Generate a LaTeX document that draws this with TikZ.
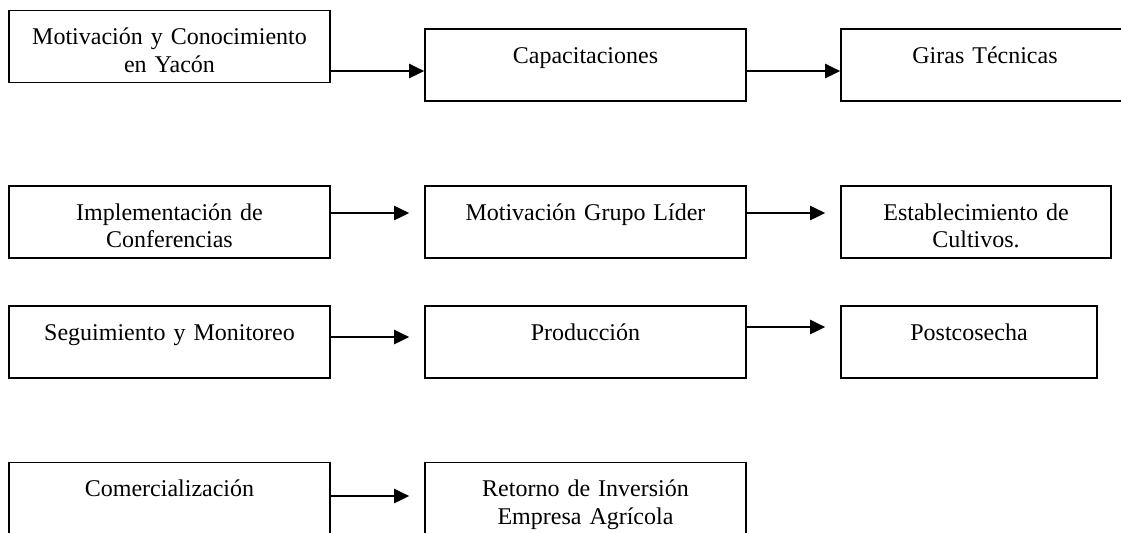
\documentclass[tikz,border=0pt]{standalone}
\usepackage{fontspec}
\setmainfont{Liberation Serif}
\usetikzlibrary{arrows.meta,positioning,calc}

\begin{document}
\begin{tikzpicture}[x=0.5pt, y=-0.5pt,
    caja/.style={draw, line width=0.8pt, minimum height=36pt, inner sep=0pt},
    texto/.style={anchor=base, align=center, text width=150pt, inner sep=0pt,
                  font=\fontsize{12pt}{13.8pt}\selectfont},
    flecha/.style={-{Triangle[length=7.5pt,width=7pt]}, line width=1.3pt}]
\useasboundingbox (0,0) rectangle (1121,532);

% Cajas
\foreach \n/\x/\y/\w/\t in {
    mot/169.5/46.5/160.5/{Motivación y Conocimiento\\en Yacón},
    cap/585.5/65/160.5/{Capacitaciones},
    gir/985/65/144/{Giras Técnicas},
    imp/169.5/222/160.5/{Implementación de\\Conferencias},
    grp/585.5/222/160.5/{Motivación Grupo Líder},
    est/976/222/135/{Establecimiento de\\Cultivos.},
    seg/169.5/342/160.5/{Seguimiento y Monitoreo},
    pro/585.5/342/160.5/{Producción},
    pos/969/342/128/{Postcosecha},
    com/169.5/498.5/160.5/{Comercialización},
    ret/585.5/498.5/160.5/{Retorno de Inversión\\Empresa Agrícola}} {
    \node[caja, minimum width=\w pt] (\n) at (\x,\y) {};
    \node[texto] (\n-t) at ([yshift=-17.5pt]\n.north) {\t};
}

% Flechas
\foreach \a/\b/\y/\s in {mot/cap/71/0, cap/gir/71/0, imp/grp/213/7.5, grp/est/213/7.5,
                         seg/pro/337/7.5, pro/pos/327/7.5, com/ret/496/7.5}
    \draw[flecha, shorten >=\s pt] (\a.east |- 0,\y) -- (\b.west |- 0,\y);
\end{tikzpicture}
\end{document}
